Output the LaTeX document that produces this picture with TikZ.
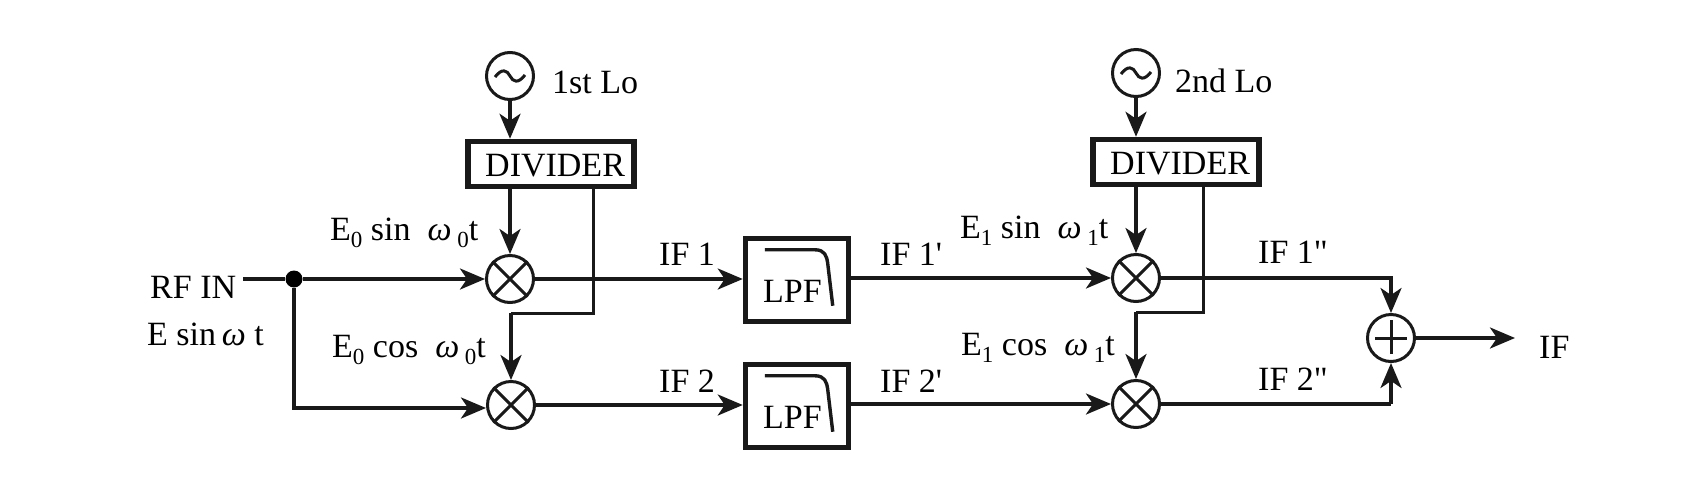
\documentclass[tikz,border=0pt]{standalone}
\usepackage{fontspec}
\setmainfont{Liberation Serif}[Ligatures=TeXOff]
\usetikzlibrary{arrows.meta}
\newcommand{\lowsub}[1]{\raisebox{-7pt}{\fontsize{23}{23}\selectfont #1}}
\newcommand{\omg}{{\itshape ω}}
\newcommand{\lpfcurve}[1]{\draw[wire,line join=round] ([shift={(22,14)}]#1.north west) -- ([shift={(72,14)}]#1.north west) .. controls ([shift={(82,14)}]#1.north west) and ([shift={(84,20)}]#1.north west) .. ([shift={(85,28)}]#1.north west) -- ([shift={(90,70)}]#1.north west);}
\newcommand{\xcross}[1]{\draw[thinw] (#1.north west) -- (#1.south east) (#1.north east) -- (#1.south west);}
\newcommand{\wave}[1]{\draw[thinw] ([xshift=-15pt,yshift=-1pt]#1.center) .. controls ([xshift=-8pt,yshift=8pt]#1.center) and ([xshift=-3pt,yshift=6pt]#1.center) .. (#1.center) .. controls ([xshift=3pt,yshift=-6pt]#1.center) and ([xshift=8pt,yshift=-8pt]#1.center) .. ([xshift=15pt,yshift=1pt]#1.center);}
\tikzset{
  wire/.style={line width=3.4pt,draw=black!90},
  thinw/.style={line width=3pt,draw=black!90},
  arrowed/.style={wire,-{Stealth[length=25pt,width=21pt,inset=7pt]}},
  disc/.style={circle,draw=black!90,line width=3pt,minimum size=47pt,inner sep=0pt,fill=white},
  bigbox/.style={rectangle,draw=black!90,line width=5.5pt,inner sep=0pt,fill=white},
  divbox/.style={bigbox,minimum width=166pt,minimum height=45pt},
  lpfbox/.style={bigbox,minimum width=103pt,minimum height=83pt},
  lab/.style={anchor=base west,inner sep=0pt,font=\fontsize{34}{36}\selectfont,text=black},
  dotnode/.style={circle,fill=black,minimum size=17pt,inner sep=0pt}
}
\begin{document}
\begin{tikzpicture}[x=1pt,y=-1pt]
\useasboundingbox[fill=white] (0,0) rectangle (1706,483);

% first stage
\node[disc] (osc1) at (510,76) {};
\node[divbox] (div1) at (551,164) {};
\node[disc] (mix1) at (510,279) {};
\node[disc] (mix2) at (511,405) {};
\node[dotnode] (rf) at (294,279) {};
\coordinate (rfstart) at (243,279);
\coordinate (bend1a) at (593,313);
\coordinate (bend1b) at (511,313);
\coordinate (div1out) at (593,164);

% filters
\node[lpfbox] (lpf1) at (797,280) {};
\node[lpfbox] (lpf2) at (797,406) {};

% second stage
\node[disc] (osc2) at (1136,73) {};
\node[divbox] (div2) at (1176,162) {};
\node[disc] (mix3) at (1136,278) {};
\node[disc] (mix4) at (1136,404) {};
\node[disc] (sum) at (1391,338) {};
\coordinate (bend2a) at (1203,312);
\coordinate (bend2b) at (1136,312);
\coordinate (div2out) at (1203,162);
\coordinate (sumtop) at (1391,276);
\coordinate (sumbot) at (1391,404);
\coordinate (ifout) at (1515,338);

% connectors
\draw[arrowed] (osc1.south) -- (osc1.south |- div1.north);
\draw[arrowed] (mix1.north |- div1.south) -- (mix1.north);
\draw[wire] (rfstart) -- (rf);
\draw[arrowed] (rf) -- (mix1.west);
\draw[arrowed] (rf) |- ([yshift=-3pt]mix2.west);
\draw[thinw,line join=miter] (div1out |- div1.south) -- (bend1a) -- (bend1b);
\draw[arrowed] (bend1b) -- (mix2.north);
\draw[arrowed] (mix1.east) -- (lpf1.west |- mix1.east);
\draw[arrowed] (mix2.east) -- (lpf2.west |- mix2.east);
\draw[arrowed] (lpf1.east |- mix3.west) -- (mix3.west);
\draw[arrowed] (lpf2.east |- mix4.west) -- (mix4.west);
\draw[arrowed] (osc2.south) -- (osc2.south |- div2.north);
\draw[arrowed] (mix3.north |- div2.south) -- (mix3.north);
\draw[thinw,line join=miter] (div2out |- div2.south) -- (bend2a) -- (bend2b);
\draw[arrowed] (bend2b) -- (mix4.north);
\draw[wire,line join=miter] (mix3.east) -- (sumtop |- mix3.east) -- (sumtop);
\draw[arrowed] (sumtop) -- (sum.north);
\draw[wire,line join=miter] (mix4.east) -- (sumbot);
\draw[arrowed] (sumbot) -- (sum.south);
\draw[arrowed] (sum.east) -- (ifout);

% symbols inside the circles and boxes
\xcross{mix1}\xcross{mix2}\xcross{mix3}\xcross{mix4}
\wave{osc1}\wave{osc2}
\lpfcurve{lpf1}\lpfcurve{lpf2}
\draw[thinw] ([yshift=-16pt]sum.center) -- ([yshift=18pt]sum.center)
             ([xshift=-16pt]sum.center) -- ([xshift=16pt]sum.center);

% labels
\node[lab] (t1st) at (552,93) {1st Lo};
\node[lab] (t2nd) at (1175,92) {2nd Lo};
\node[lab] (tdiv1) at (485,176) {DIVIDER};
\node[lab] (tdiv2) at (1110,174) {DIVIDER};
\node[lab] (trf) at (150,298) {RF IN};
\node[lab] (tesin) at (147,345) {E sin\,\omg\ t};
\node[lab] (tq1) at (330,240) {E\lowsub{0} sin\ \ \omg\,\lowsub{0}t};
\node[lab] (tq2) at (332,357) {E\lowsub{0} cos\ \ \omg\,\lowsub{0}t};
\node[lab] (tif1) at (659,265) {IF 1};
\node[lab] (tif2) at (659,392) {IF 2};
\node[lab] (tlpf1) at (763,302) {LPF};
\node[lab] (tlpf2) at (763,428) {LPF};
\node[lab] (tif1p) at (880,265) {IF 1'};
\node[lab] (tif2p) at (880,392) {IF 2'};
\node[lab] (tq3) at (960,238) {E\lowsub{1} sin\ \ \omg\,\lowsub{1}t};
\node[lab] (tq4) at (961,355) {E\lowsub{1} cos\ \ \omg\,\lowsub{1}t};
\node[lab] (tif1pp) at (1258,263) {IF 1"};
\node[lab] (tif2pp) at (1258,390) {IF 2"};
\node[lab] (tif) at (1539,358) {IF};
\end{tikzpicture}
\end{document}
